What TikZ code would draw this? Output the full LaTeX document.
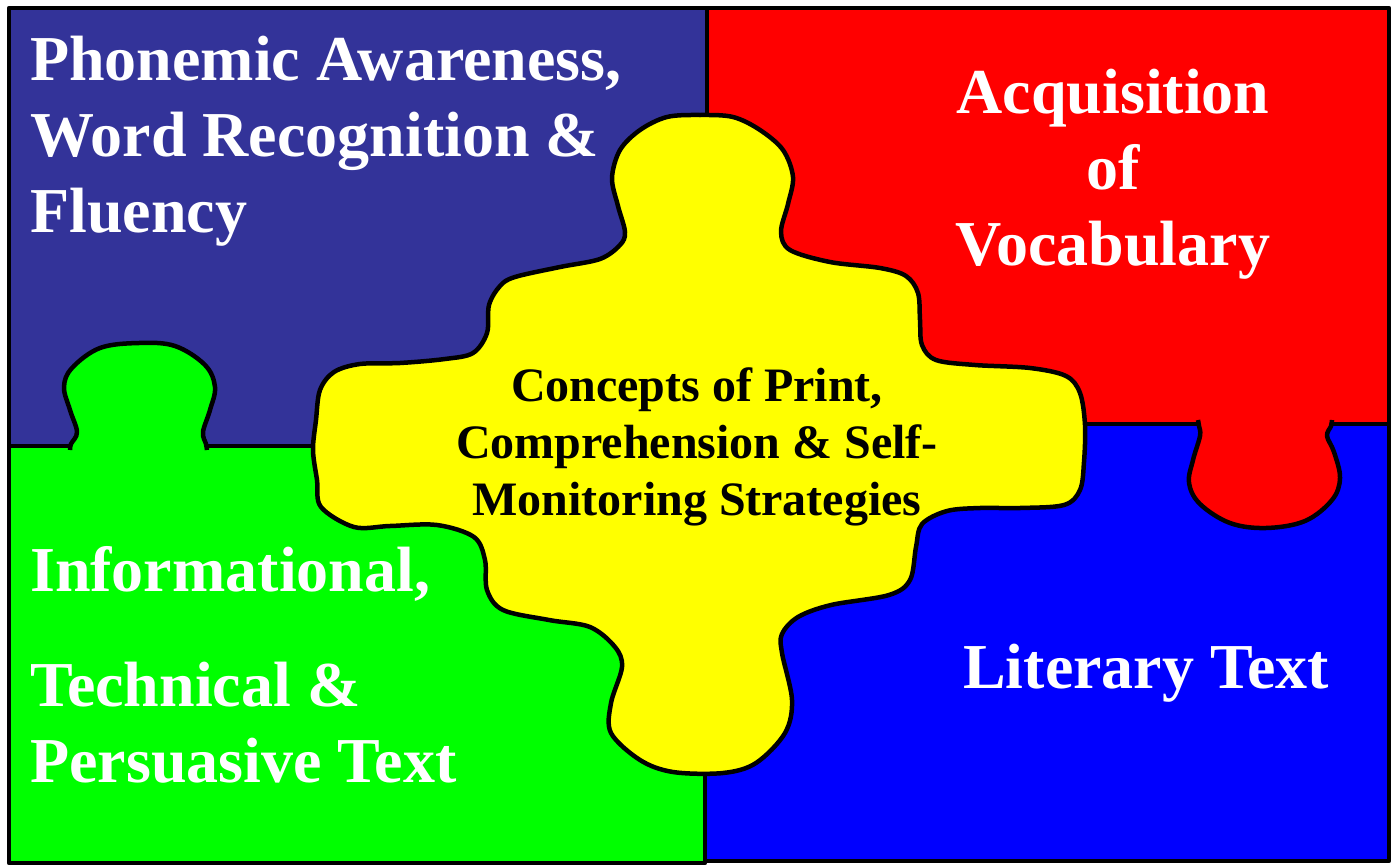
\documentclass[tikz,border=0pt]{standalone}
\usepackage{fontspec}
\setmainfont{Liberation Serif}
\definecolor{navypiece}{HTML}{333399}
\definecolor{redpiece}{HTML}{FF0000}
\definecolor{greenpiece}{HTML}{00FF00}
\definecolor{bluepiece}{HTML}{0000FF}
\definecolor{yellowpiece}{HTML}{FFFF00}
\tikzset{
  piece/.style={draw=black, line width=4.5pt, line join=round},
  bigtext/.style={text=white, inner sep=0pt, font=\bfseries\fontsize{64}{76}\selectfont},
  midtext/.style={text=black, inner sep=0pt, align=center, font=\bfseries\fontsize{48}{57}\selectfont},
}

\begin{document}
\begin{tikzpicture}[x=1pt, y=-1pt]
  \useasboundingbox (0,0) rectangle (1391,867);

  % the four corner pieces
  \draw[piece, fill=navypiece] (9,8) rectangle (707,446);
  \draw[piece, fill=redpiece] (707,8) rectangle (1389,424);
  \draw[piece, fill=bluepiece] (705,424) rectangle (1389,861);
  \draw[piece, fill=greenpiece] (9,446) rectangle (705,863);

  % tabs
  \draw[piece, fill=greenpiece] plot[smooth, tension=0.6] coordinates {
    (70,450) (71,444) (77,432) (70,410) (64,387) (72,368) (100,348) (139,343)
    (175,346) (205,365) (215,387) (210,410) (203,432) (206,444) (207,450)};
  \draw[piece, fill=redpiece] plot[smooth, tension=0.6] coordinates {
    (1198,420) (1199,426) (1200,436) (1193,460) (1189,483) (1200,504) (1230,523)
    (1266,528) (1305,521) (1332,500) (1340,478) (1334,452) (1327,436) (1331,426) (1332,420)};

  % centre piece
  \draw[piece, fill=yellowpiece] plot[smooth cycle, tension=0.55] coordinates {
    (625,232) (618,206) (612,178) (620,150) (640,130) (667,117) (700,115) (733,117)
    (760,130) (783,150) (793,177) (788,204) (781,232) (790,250) (830,262) (880,268)
    (906,276) (918,293) (920,320) (922,345) (936,360) (975,365) (1030,368) (1066,376)
    (1080,393) (1085,425) (1084,462) (1080,490) (1064,505) (1020,508) (980,508)
    (947,511) (922,524) (916,547) (910,580) (889,595) (831,605) (798,617) (782,634)
    (782,653) (792,700) (785,733) (756,763) (723,773) (673,772) (640,760) (611,733)
    (611,703) (622,667) (615,647) (590,627) (549,620) (503,610) (487,590) (485,560)
    (474,537) (437,525) (390,526) (354,527) (321,507) (317,480) (313,450) (316,420)
    (320,390) (334,372) (360,364) (400,363) (445,359) (473,353) (487,333) (489,305)
    (500,286) (515,277) (560,267) (600,259) (620,245)};

  % labels (base = last line)
  \node[bigtext, align=left, anchor=base west] (phonemic) at (30,232)
    {Phonemic Awareness,\\Word Recognition \&\\Fluency};
  \node[bigtext, align=center, anchor=base] (vocabulary) at (1113,265)
    {Acquisition\\of\\Vocabulary};
  \node[bigtext, align=left, anchor=base west] (informational) at (30,782)
    {Informational,\\[39pt]Technical \&\\Persuasive Text};
  \node[bigtext, anchor=base] (literary) at (1146,688) {Literary Text};
  \node[midtext, anchor=base] (concepts) at (697,515)
    {Concepts of Print,\\Comprehension \& Self-\\Monitoring Strategies};
\end{tikzpicture}
\end{document}
